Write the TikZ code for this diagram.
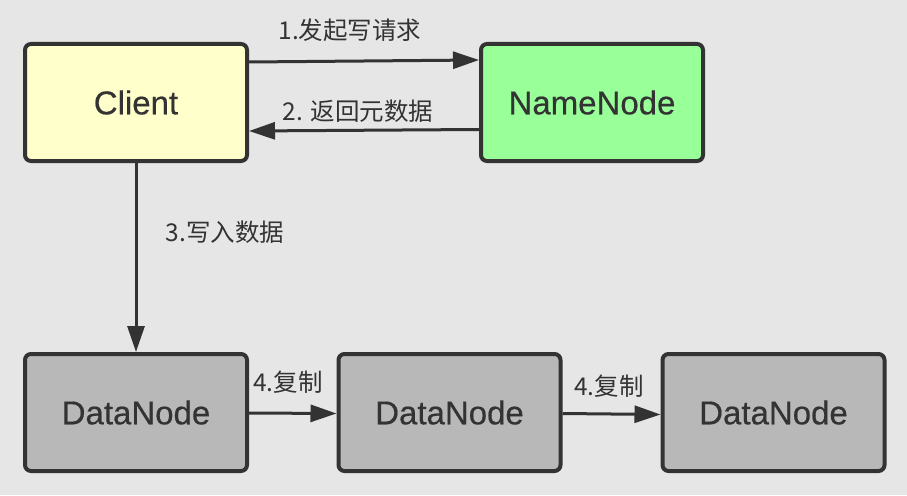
\documentclass[tikz,border=0pt]{standalone}
\usepackage{fontspec}
\setmainfont{Liberation Sans}
\newfontfamily\boxfont{Liberation Sans}[FakeBold=0.5]
\newfontfamily\cjk{Noto Sans CJK SC}
\usetikzlibrary{arrows.meta}
\definecolor{paper}{HTML}{E6E6E6}
\definecolor{ink}{HTML}{333333}
\definecolor{clientfill}{HTML}{FFFFCC}
\definecolor{namefill}{HTML}{99FF99}
\definecolor{datafill}{HTML}{B8B8B8}

\begin{document}
\begin{tikzpicture}[x=1pt, y=-1pt,
    box/.style={draw=ink, line width=4pt, rounded corners=6pt, minimum width=222pt, minimum height=117pt, inner sep=0pt, text=ink, font=\boxfont\fontsize{33}{38}\selectfont},
    link/.style={draw=ink, line width=3pt, -{Triangle[length=26pt,width=17pt]}},
    lbl/.style={text=ink, inner sep=0pt, font=\cjk\fontsize{24.5}{29}\selectfont}]
    % Canvas
    \fill[paper] (0,0) rectangle (907,495);
    \useasboundingbox (0,0) rectangle (907,495);

    % Client
    \node[box, fill=clientfill] (client) at (136,102.5) {Client};

    % NameNode
    \node[box, fill=namefill] (namenode) at (592,102.5) {NameNode};

    % DataNodes
    \node[box, fill=datafill] (dn1) at (136,412.5) {DataNode};
    \node[box, fill=datafill] (dn2) at (449.5,412.5) {DataNode};
    \node[box, fill=datafill] (dn3) at (773.5,412.5) {DataNode};

    % Labels
    \node[lbl] (req) at (350,30) {1.发起写请求};
    \node[lbl] (meta) at (358,111) {2. 返回元数据};
    \node[lbl] (write) at (225,232) {3.写入数据};
    \node[lbl] (copya) at (288,382) {4.复制};
    \node[lbl] (copyb) at (609,386) {4.复制};

    % Arrows
    \draw[link] ([yshift=40.5pt]client.east) -- ([yshift=42.5pt]namenode.west);
    \draw[link] ([yshift=-27pt]namenode.west) -- ([yshift=-28.5pt]client.east);
    \draw[link] (client.south) -- (dn1.north);
    \draw[link] ([yshift=-0.5pt]dn1.east) -- ([yshift=-1pt]dn2.west);
    \draw[link] ([yshift=-1pt]dn2.east) -- ([yshift=-2pt]dn3.west);
\end{tikzpicture}
\end{document}
